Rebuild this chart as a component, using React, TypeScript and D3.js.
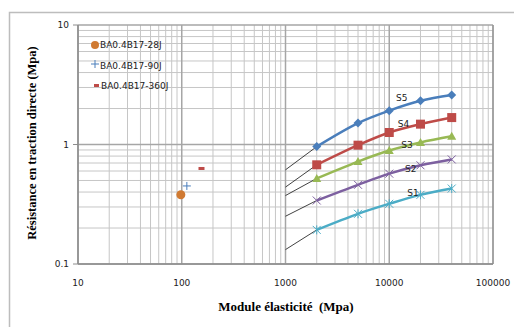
import React from "react";
import * as d3 from "d3";

const modules = [2000, 5000, 10000, 20000, 40000];
const seriesNames = ["S1", "S2", "S3", "S4", "S5"];
const s1 = [0.193, 0.263, 0.319, 0.379, 0.428];
const s2 = [0.34, 0.46, 0.57, 0.67, 0.75];
const s3 = [0.52, 0.72, 0.89, 1.04, 1.17];
const s4 = [0.676, 0.987, 1.26, 1.48, 1.68];
const s5 = [0.96, 1.51, 1.92, 2.32, 2.59];
const extStartX = 1000;
const extStartY = [0.132, 0.251, 0.374, 0.44, 0.614];
const labelX = [14940, 14190, 13060, 12100, 11600];
const labelY = [0.374, 0.594, 0.926, 1.41, 2.33];

const pointNames = ["BA0.4B17-28J", "BA0.4B17-90J", "BA0.4B17-360J"];
const pointX = [98, 112, 155];
const pointY = [0.38, 0.45, 0.63];

const xTicks = [10, 100, 1000, 10000, 100000];
const yTicks = [0.1, 1, 10];
const xTickLabels = ["10", "100", "1000", "10000", "100000"];
const yTickLabels = ["0.1", "1", "10"];

const colors = ["#4bacc6", "#7d60a0", "#98b954", "#be4b48", "#4a7ebb"];
const markers = ["star", "x", "triangle", "square", "diamond"];

const W = 514, H = 327;
const x = d3.scaleLog().domain([10, 100000]).range([78, 493]);
const y = d3.scaleLog().domain([0.1, 10]).range([264, 25]);

function Marker({ type, cx, cy, color }: { type: string; cx: number; cy: number; color: string }) {
  if (type === "diamond")
    return <path d={`M${cx},${cy - 4.5}L${cx + 4.5},${cy}L${cx},${cy + 4.5}L${cx - 4.5},${cy}Z`} fill={color} />;
  if (type === "square") return <rect x={cx - 4.5} y={cy - 4.5} width={9} height={9} fill={color} />;
  if (type === "triangle")
    return <path d={`M${cx},${cy - 4.5}L${cx + 4.5},${cy + 3.5}L${cx - 4.5},${cy + 3.5}Z`} fill={color} />;
  if (type === "x")
    return (
      <path d={`M${cx - 4},${cy - 4}L${cx + 4},${cy + 4}M${cx - 4},${cy + 4}L${cx + 4},${cy - 4}`} stroke={color} strokeWidth={1} />
    );
  return (
    <path
      d={`M${cx - 4},${cy - 4}L${cx + 4},${cy + 4}M${cx - 4},${cy + 4}L${cx + 4},${cy - 4}M${cx},${cy - 4.5}L${cx},${cy + 4.5}`}
      stroke={color}
      strokeWidth={1}
    />
  );
}

export default function App() {
  const all = [s1, s2, s3, s4, s5];
  const line = d3
    .line<[number, number]>()
    .x((d) => x(d[0]))
    .y((d) => y(d[1]))
    .curve(d3.curveCatmullRom.alpha(0.5));
  const straight = d3
    .line<[number, number]>()
    .x((d) => x(d[0]))
    .y((d) => y(d[1]));

  const vMinor: number[] = [];
  for (let e = 1; e <= 4; e++) for (let k = 2; k <= 9; k++) vMinor.push(k * Math.pow(10, e));
  const hMinor: number[] = [];
  for (let e = -1; e <= 0; e++) for (let k = 2; k <= 9; k++) hMinor.push(k * Math.pow(10, e));

  const sans = "DejaVu Sans, Verdana, sans-serif";
  const serif = "Liberation Serif, Times New Roman, serif";

  return (
    <svg width={W} height={H} style={{ position: "absolute", left: 0, top: 0, background: "#fff" }}>
      <rect x={9.5} y={12.5} width={600} height={400} fill="#fff" stroke="#bdbdbd" strokeWidth={1.5} />
      {vMinor.map((v, i) => (
        <line key={"vm" + i} x1={x(v)} x2={x(v)} y1={y(10)} y2={y(0.1)} stroke="#c6c6c6" strokeWidth={1} />
      ))}
      {hMinor.map((v, i) => (
        <line key={"hm" + i} x1={x(10)} x2={x(100000)} y1={y(v)} y2={y(v)} stroke="#c6c6c6" strokeWidth={1} />
      ))}
      {xTicks.map((v, i) => (
        <line key={"vM" + i} x1={x(v)} x2={x(v)} y1={y(10)} y2={y(0.1)} stroke="#a6a6a6" strokeWidth={1.5} />
      ))}
      {yTicks.map((v, i) => (
        <line key={"hM" + i} x1={x(10)} x2={x(100000)} y1={y(v)} y2={y(v)} stroke="#a6a6a6" strokeWidth={1.5} />
      ))}
      <line x1={x(10)} x2={x(10)} y1={y(10)} y2={y(0.1)} stroke="#8c8c8c" strokeWidth={1.5} />
      <line x1={x(10)} x2={x(100000)} y1={y(0.1)} y2={y(0.1)} stroke="#8c8c8c" strokeWidth={1.5} />
      <line x1={x(100000)} x2={x(100000)} y1={y(10)} y2={y(0.1)} stroke="#8c8c8c" strokeWidth={1} />
      {yTicks.map((v, i) => (
        <line key={"yt" + i} x1={x(10) - 5} x2={x(10)} y1={y(v)} y2={y(v)} stroke="#8c8c8c" strokeWidth={1} />
      ))}

      {yTicks.map((v, i) => (
        <text key={"yl" + i} x={69} y={y(v) + 3} fontSize={9} fontFamily={sans} textAnchor="end" fill="#222">
          {yTickLabels[i]}
        </text>
      ))}
      {xTicks.map((v, i) => (
        <text key={"xl" + i} x={x(v)} y={286} fontSize={9} fontFamily={sans} textAnchor="middle" fill="#222">
          {xTickLabels[i]}
        </text>
      ))}

      {all.map((s, i) => (
        <path
          key={"ext" + i}
          d={straight([[extStartX, extStartY[i]], [modules[0], s[0]]]) || ""}
          stroke="#111"
          strokeWidth={0.8}
          fill="none"
        />
      ))}
      {all.map((s, i) => (
        <g key={"s" + i}>
          <path
            d={line(modules.map((m, j) => [m, s[j]] as [number, number])) || ""}
            stroke={colors[i]}
            strokeWidth={2.5}
            fill="none"
          />
          {modules.map((m, j) => (
            <Marker key={j} type={markers[i]} cx={x(m)} cy={y(s[j])} color={colors[i]} />
          ))}
          <text x={x(labelX[i])} y={y(labelY[i])} fontSize={9} fontFamily={sans} fill="#222">
            {seriesNames[i]}
          </text>
        </g>
      ))}

      <circle cx={x(pointX[0])} cy={y(pointY[0])} r={4.5} fill="#d07a32" />
      <path
        d={`M${x(pointX[1]) - 4},${y(pointY[1])}H${x(pointX[1]) + 4}M${x(pointX[1])},${y(pointY[1]) - 4}V${y(pointY[1]) + 4}`}
        stroke="#4a7ebb"
        strokeWidth={1}
      />
      <rect x={x(pointX[2]) - 3} y={y(pointY[2]) - 1.5} width={6} height={3} fill="#be4b48" />

      <circle cx={95} cy={45} r={4} fill="#d07a32" />
      <path d="M91,64H99M95,60V68" stroke="#4a7ebb" strokeWidth={1} />
      <rect x={94} y={84} width={5} height={3} fill="#be4b48" />
      {pointNames.map((n, i) => (
        <text key={"lg" + i} x={i === 2 ? 101 : 100} y={48 + i * 20.5} fontSize={9} fontFamily={sans} fill="#222">
          {n}
        </text>
      ))}

      <text
        x={286}
        y={310.5}
        fontSize={13}
        fontWeight="bold"
        fontFamily={serif}
        textAnchor="middle"
        fill="#000"
        style={{ whiteSpace: "pre" }}
      >
        {"Module élasticité  (Mpa)"}
      </text>
      <text
        transform="translate(36,143) rotate(-90)"
        fontSize={12.5}
        fontWeight="bold"
        fontFamily={serif}
        textAnchor="middle"
        fill="#000"
      >
        Résistance en traction directe (Mpa)
      </text>
    </svg>
  );
}
